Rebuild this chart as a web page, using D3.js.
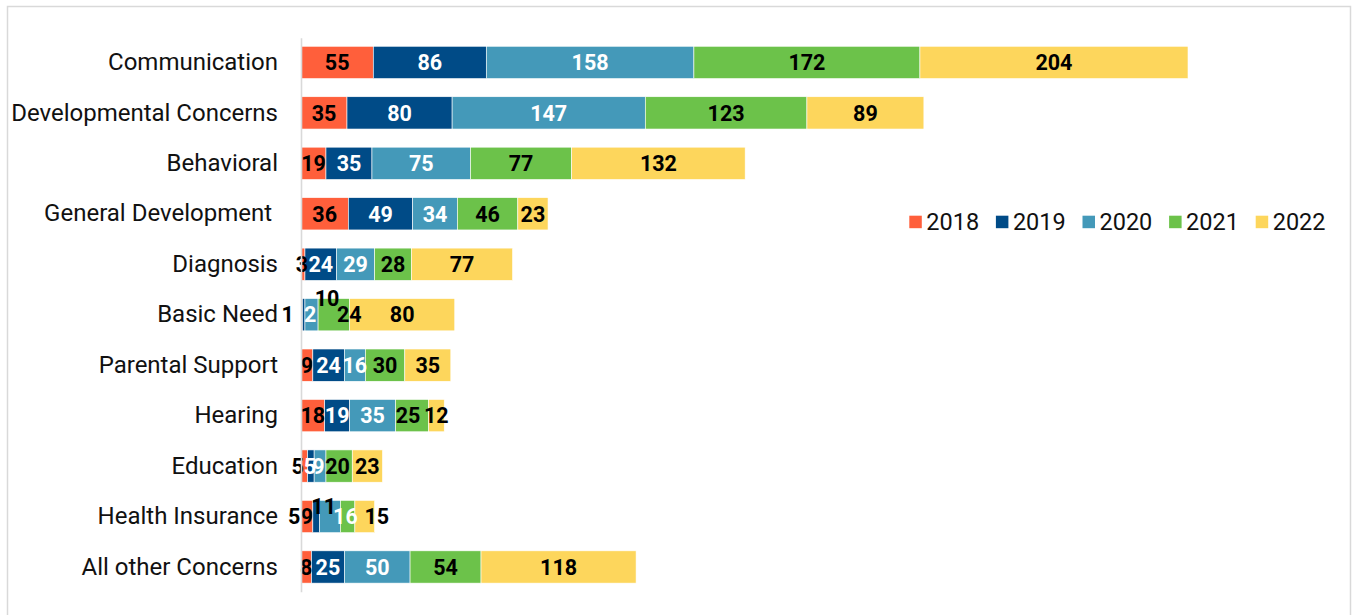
<!DOCTYPE html>
<html>
<head>
<meta charset="utf-8">
<script src="https://cdn.jsdelivr.net/npm/d3@7/dist/d3.min.js"></script>
<style>
  html, body { margin: 0; padding: 0; background: #fff; }
  svg { display: block; }
  text { font-family: Roboto, "Noto Sans", sans-serif; }
</style>
</head>
<body>
<svg id="chart" width="1353" height="615"></svg>
<script>
// ---- data ----
const categories = ["Communication", "Developmental Concerns", "Behavioral", "General Development ", "Diagnosis", "Basic Need", "Parental Support", "Hearing", "Education", "Health Insurance", "All other Concerns"];
const years = ["2018", "2019", "2020", "2021", "2022"];
const v2018 = [55, 35, 19, 36, 3, 1, 9, 18, 5, 9, 8];
const v2019 = [86, 80, 35, 49, 24, 2, 24, 19, 5, 5, 25];
const v2020 = [158, 147, 75, 34, 29, 10, 16, 35, 9, 16, 50];
const v2021 = [172, 123, 77, 46, 28, 24, 30, 25, 20, 11, 54];
const v2022 = [204, 89, 132, 23, 77, 80, 35, 12, 23, 15, 118];
const seriesValues = [v2018, v2019, v2020, v2021, v2022];

// ---- style ----
const colors = ["#FF5F3B", "#004B87", "#4499B9", "#6CC24A", "#FDD65C"];
const labelColors = ["#000", "#fff", "#fff", "#000", "#000"];
// label collision adjustments (layout only)
const nudges = {
  "Diagnosis|2018": {dx: -1},
  "Basic Need|2018": {dx: -14},
  "Basic Need|2019": {dx: 6.5},
  "Basic Need|2020": {dx: 15.5, dy: -16, color: "#000"},
  "Basic Need|2021": {dx: 15.5},
  "Hearing|2021": {dx: -4},
  "Education|2018": {dx: -6.5},
  "Education|2019": {dx: -1},
  "Education|2020": {dx: -1.7},
  "Education|2021": {dx: -1.5},
  "Health Insurance|2019": {dx: -22, color: "#000"},
  "Health Insurance|2020": {dx: 15.5},
  "Health Insurance|2021": {dx: -24, dy: -10},
  "Health Insurance|2022": {dx: 12}
};

const svg = d3.select("#chart");

// outer frame
svg.append("rect")
  .attr("x", 7.5).attr("y", 6.5)
  .attr("width", 1343).attr("height", 640)
  .attr("fill", "none").attr("stroke", "#d9d9d9").attr("stroke-width", 1.5);

const rows = categories.map((c, i) => {
  const r = {category: c.trim()};
  years.forEach((y, j) => r[y] = seriesValues[j][i]);
  return r;
});
const stacked = d3.stack().keys(years)(rows);
const maxTotal = d3.max(rows, r => d3.sum(years, y => r[y]));

const x = d3.scaleLinear().domain([0, maxTotal]).range([301, 1188]);
const y = d3.scaleBand().domain(categories.map(c => c.trim())).range([37.7, 591.7])
  .paddingInner(0.36).paddingOuter(0.17);

// bars
const g = svg.append("g");
stacked.forEach((layer, j) => {
  g.selectAll(null).data(layer).enter().append("rect")
    .attr("x", d => x(d[0]))
    .attr("y", d => y(d.data.category))
    .attr("width", d => x(d[1]) - x(d[0]))
    .attr("height", y.bandwidth())
    .attr("fill", colors[j])
    .attr("stroke", "#fff").attr("stroke-width", 0.6);
});

// axis line + category labels
const yAxis = d3.axisLeft(y).tickSize(0).tickPadding(23)
  .tickFormat((d, i) => categories[i]);
const ax = svg.append("g").attr("transform", `translate(${x(0)},0)`).call(yAxis);
ax.select(".domain").attr("stroke", "#d9d9d9").attr("stroke-width", 1.6);
ax.selectAll("text")
  .attr("font-size", 24).attr("fill", "#111")
  .style("white-space", "pre")
  .attr("font-family", "Roboto, sans-serif");

// value labels
stacked.forEach((layer, j) => {
  g.selectAll(null).data(layer).enter().append("text")
    .text(d => d.data[years[j]])
    .attr("x", d => {
      const n = nudges[d.data.category + "|" + years[j]] || {};
      return (x(d[0]) + x(d[1])) / 2 + (n.dx || 0);
    })
    .attr("y", d => {
      const n = nudges[d.data.category + "|" + years[j]] || {};
      return y(d.data.category) + y.bandwidth() / 2 + (n.dy || 0);
    })
    .attr("dy", "0.36em")
    .attr("text-anchor", "middle")
    .attr("font-size", 21.5).attr("font-weight", "bold")
    .attr("fill", d => {
      const n = nudges[d.data.category + "|" + years[j]] || {};
      return n.color || labelColors[j];
    });
});

// legend
const legend = svg.append("g");
const legendX = d3.scalePoint().domain(years).range([909.3, 1255.7]);
years.forEach((yr, j) => {
  const lg = legend.append("g").attr("transform", `translate(${legendX(yr)},215.7)`);
  lg.append("rect").attr("width", 12.5).attr("height", 12.5).attr("fill", colors[j]);
  lg.append("text").attr("x", 17).attr("y", 6.3).attr("dy", "0.36em")
    .attr("font-size", 23.5).attr("fill", "#111").text(yr);
});
</script>
</body>
</html>
